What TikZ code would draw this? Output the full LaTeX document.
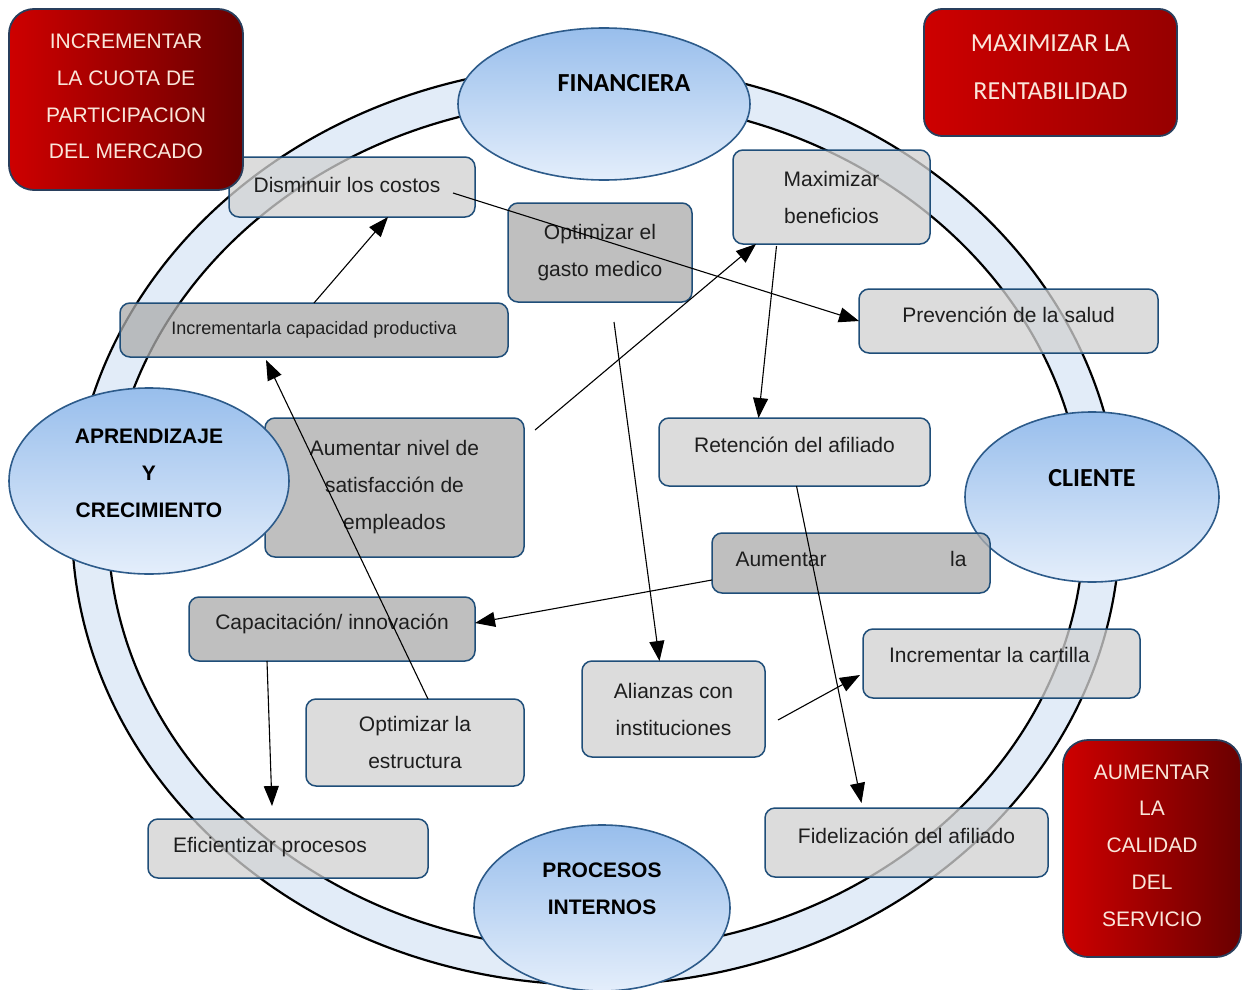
\documentclass[tikz,border=0pt]{standalone}
\usepackage{fontspec}
\setmainfont{Liberation Sans}
\newfontfamily\carlito{Carlito}
\usetikzlibrary{shapes.geometric,arrows.meta}
\definecolor{ringband}{RGB}{226,236,248}
\definecolor{boxedge}{RGB}{31,78,121}
\definecolor{lightbox}{RGB}{210,210,210}
\definecolor{darkbox}{RGB}{172,172,172}
\definecolor{perspedge}{RGB}{45,91,138}
\definecolor{persptop}{RGB}{152,190,236}
\definecolor{perspbot}{RGB}{228,238,251}
\definecolor{redlight}{RGB}{206,0,0}
\definecolor{reddark}{RGB}{105,0,0}
\definecolor{redmid}{RGB}{150,0,0}
\definecolor{rededge}{RGB}{40,62,92}
\definecolor{redtext}{RGB}{250,230,218}
\definecolor{boxtext}{RGB}{30,30,30}

\begin{document}
\begin{tikzpicture}[x=1pt,y=-1pt,
  every node/.style={outer sep=0pt},
  card/.style={rectangle, rounded corners=10pt, draw=boxedge, line width=1.5pt,
    fill opacity=0.76, text opacity=1, text=boxtext,
    font=\fontsize{21}{37}\selectfont, align=center, inner sep=0pt},
  pale/.style={card, fill=lightbox},
  dark/.style={card, fill=darkbox},
  sized/.style 2 args={minimum width=#1, minimum height=#2},
  oneline/.style={text height=15pt, text depth=#1},
  persp/.style={ellipse, draw=perspedge, line width=1.6pt,
    top color=persptop, bottom color=perspbot, inner sep=0pt},
  persptext/.style={font=\bfseries\fontsize{21}{37}\selectfont, align=center, text=black},
  perspcal/.style={font=\carlito\bfseries\fontsize{26}{30}\selectfont, text=black},
  goal/.style={rectangle, draw=rededge, line width=1.8pt, left color=redlight,
    right color=reddark, inner sep=0pt},
  goaltext/.style={text=redtext, align=center, inner sep=0pt},
  link/.style={-{Triangle[length=20pt,width=15pt]}, line width=1.1pt, black},
]
\fill[white] (0,0) rectangle (1242,990);
\useasboundingbox (0,0) rectangle (1242,990);

% perspective ring
\fill[ringband, even odd rule]
  (596,525) ellipse [x radius=524pt, y radius=460pt]
  (596,525) ellipse [x radius=488pt, y radius=425pt];
\draw[line width=2.2pt] (596,525) ellipse [x radius=524pt, y radius=460pt];
\draw[line width=2.2pt] (596,525) ellipse [x radius=488pt, y radius=425pt];

% customer perspective sits below its neighbouring box
\node[persp, minimum width=254pt, minimum height=170pt] (cli) at (1092,497) {};

% objectives
\node[pale, sized={246pt}{60pt}, oneline=4pt] (dis) at (352,187) {Disminuir los costos\hspace*{10pt}};
\node[dark, sized={184pt}{99pt}] (ogm) at (600,252.5) {Optimizar el\\gasto medico};
\node[pale, sized={197pt}{94pt}] (mb) at (831.5,197) {Maximizar\\beneficios};
\node[dark, sized={388pt}{54pt}, oneline=6pt, font=\fontsize{18}{37}\selectfont] (icp) at (314,330) {Incrementarla capacidad productiva};
\node[pale, sized={299pt}{64pt}, oneline=13pt] (prev) at (1008.5,321) {Prevención de la salud};
\node[dark, sized={259pt}{139pt}] (ans) at (394.5,487.5) {Aumentar nivel de\\satisfacción de\\empleados};
\node[pale, sized={271pt}{68pt}, oneline=15pt] (ret) at (794.5,452) {Retención del afiliado};
\node[dark, sized={278pt}{60pt}, oneline=9pt] (aum) at (851,563) {\makebox[231pt]{Aumentar\hfill la}};
\node[dark, sized={286pt}{64pt}, oneline=15pt] (cap) at (332,629) {Capacitación/ innovación};
\node[pale, sized={277pt}{69pt}, oneline=18pt] (inc) at (1001.5,663.5) {Incrementar la cartilla\hspace*{24pt}};
\node[pale, sized={183pt}{96pt}] (ali) at (673.5,709) {Alianzas con\\instituciones};
\node[pale, sized={218pt}{87pt}] (oes) at (415,742.5) {Optimizar la\\estructura};
\node[pale, sized={280pt}{59pt}, oneline=8pt] (efi) at (288,848.5) {Eficientizar procesos\hspace*{36pt}};
\node[pale, sized={283pt}{69pt}, oneline=14pt] (fid) at (906.5,842.5) {Fidelización del afiliado};

% remaining perspectives
\node[persp, minimum width=292pt, minimum height=152pt] (fin) at (604,104) {};
\node[persp, minimum width=280pt, minimum height=186pt] (apr) at (149,481) {};
\node[persp, minimum width=256pt, minimum height=166pt] (pro) at (602,908) {};

\node[perspcal] (fin-t) at ([xshift=20pt,yshift=21pt]fin.center) {FINANCIERA};
\node[persptext] (apr-t) at ([yshift=8pt]apr.center) {APRENDIZAJE\\Y\\CRECIMIENTO};
\node[perspcal] (cli-t) at ([yshift=19pt]cli.center) {CLIENTE};
\node[persptext] (pro-t) at ([yshift=19.5pt]pro.center) {PROCESOS\\INTERNOS};

% strategic goals
\node[goal, rounded corners=25pt, minimum width=234pt, minimum height=181pt,
  label={[goaltext, yshift=3pt, font=\fontsize{21}{36.7}\selectfont]center:INCREMENTAR\\LA CUOTA DE\\PARTICIPACION\\DEL MERCADO}]
  (g1) at (126,99.5) {};
\node[goal, rounded corners=18pt, minimum width=253pt, minimum height=127pt,
  left color=redlight, right color=redmid,
  label={[goaltext, yshift=5pt, font=\carlito\fontsize{26}{48}\selectfont]center:MAXIMIZAR LA\\RENTABILIDAD}]
  (g2) at (1050.5,72.5) {};
\node[goal, rounded corners=25pt, minimum width=178pt, minimum height=217pt,
  label={[goaltext, yshift=3pt, font=\fontsize{21}{36.75}\selectfont]center:AUMENTAR\\LA\\CALIDAD\\DEL\\SERVICIO}]
  (g3) at (1152,848.5) {};

% cause-effect links
\draw[link] ([xshift=101pt,yshift=-6pt]dis.center) -- (prev.west);
\draw[link] (icp.north) -- ([xshift=36pt]dis.south);
\draw[link] ([xshift=13pt]oes.north) -- ([xshift=-48pt,yshift=-3pt]icp.south);
\draw[link] ([xshift=11pt,yshift=-12pt]ans.north east) -- ([xshift=23pt]mb.south west);
\draw[link] ([xshift=14pt,yshift=-20pt]ogm.south) -- ([xshift=-14pt]ali.north);
\draw[link] ([xshift=-55pt,yshift=-2pt]mb.south) -- ([xshift=-36pt]ret.north);
\draw[link] ([xshift=2pt]ret.south) -- ([xshift=-45pt,yshift=5pt]fid.north);
\draw[link] ([yshift=-17pt]aum.west) -- ([yshift=6pt]cap.east);
\draw[link] ([xshift=13pt,yshift=-11pt]ali.east) -- ([xshift=-3pt,yshift=-11.5pt]inc.west);
\draw[link] ([xshift=-65pt]cap.south) -- ([xshift=-16pt,yshift=13pt]efi.north);
\end{tikzpicture}
\end{document}
